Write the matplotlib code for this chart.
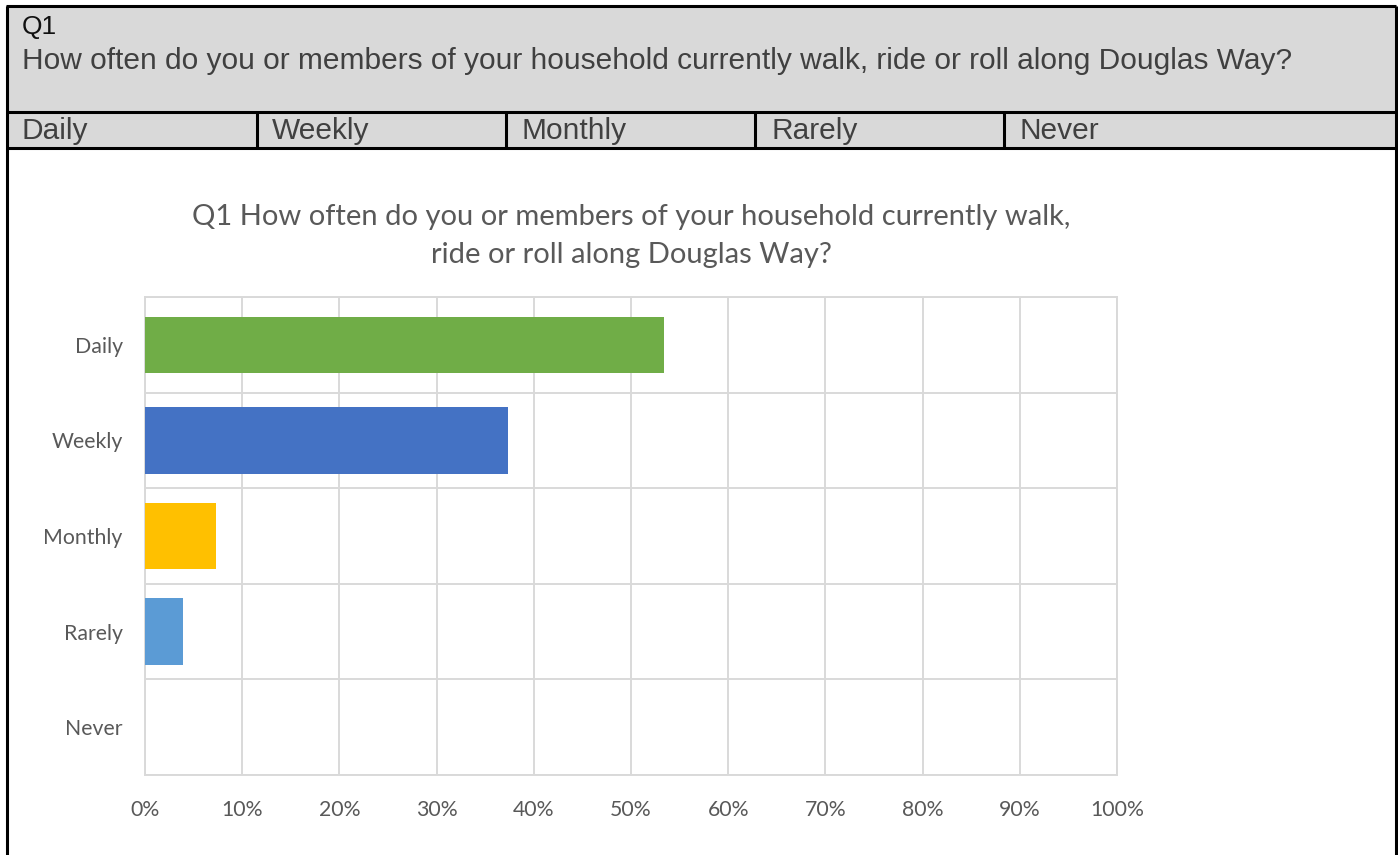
import matplotlib.pyplot as plt
from matplotlib.patches import Rectangle

# data
categories = ['Daily', 'Weekly', 'Monthly', 'Rarely', 'Never']
shares = [0.534, 0.373, 0.073, 0.039, 0.0]
bar_colors = ['#70AD47', '#4472C4', '#FFC000', '#5B9BD5', '#A5A5A5']
xtick_vals = [i / 10 for i in range(11)]
xtick_labels = [f'{i * 10}%' for i in range(11)]
header_q = 'Q1'
header_text = 'How often do you or members of your household currently walk, ride or roll along Douglas Way?'
chart_title = 'Q1 How often do you or members of your household currently walk,\nride or roll along Douglas Way?'

W, H = 1398, 855
fig = plt.figure(figsize=(W / 100, H / 100), dpi=100)

# background layer in pixel coordinates for the table frame
bg = fig.add_axes([0, 0, 1, 1])
bg.set_xlim(0, W)
bg.set_ylim(H, 0)
bg.axis('off')

bg.add_patch(Rectangle((6, 6), 1390, 143, facecolor='#D9D9D9', edgecolor='none'))
black = dict(color='black', lw=2.2, solid_capstyle='butt')
bg.plot([6, 1396], [6.5, 6.5], **black)
bg.plot([6.5, 6.5], [6, H], **black)
bg.plot([1396, 1396], [6, H], **black)
bg.plot([6, 1396], [112.5, 112.5], **black)
bg.plot([6, 1396], [148.5, 148.5], **black)
for xd in [257, 506, 755, 1004]:
    bg.plot([xd, xd], [112.5, 148.5], **black)

hdr_font = ['Liberation Sans', 'DejaVu Sans']
bg.text(22, 27, header_q, fontsize=19, family=hdr_font, color='#111111', va='center')
bg.text(22, 61, header_text, fontsize=21.5, family=hdr_font, color='#404040', va='center')
for xl, lab in zip([22, 272, 521, 771, 1020], categories):
    bg.text(xl, 131, lab, fontsize=21.5, family=hdr_font, color='#404040', va='center')

# chart
ax = fig.add_axes([145 / W, (H - 775) / H, (1117 - 145) / W, (775 - 297) / H])
ypos = range(len(categories))
heights = [0.58, 0.7, 0.7, 0.7, 0.7]
ax.barh(list(ypos), shares, height=heights, color=bar_colors, zorder=3)
ax.set_xlim(0, 1)
ax.set_ylim(len(categories) - 0.5, -0.5)

ax.set_xticks(xtick_vals)
ax.set_xticklabels(xtick_labels)
ax.set_yticks(list(ypos))
ax.set_yticklabels(categories)
ax.set_yticks([k - 0.5 for k in range(len(categories) + 1)], minor=True)

grid_c = '#D9D9D9'
ax.grid(axis='x', which='major', color=grid_c, lw=1.4, zorder=0)
ax.grid(axis='y', which='minor', color=grid_c, lw=1.4, zorder=0)
for s in ax.spines.values():
    s.set_color(grid_c)
    s.set_linewidth(1.4)
ax.tick_params(which='both', length=0)
ax.tick_params(axis='x', pad=18)
ax.tick_params(axis='y', pad=16)

lab_font = ['Lato', 'DejaVu Sans']
for t in ax.get_xticklabels() + ax.get_yticklabels():
    t.set_family(lab_font)
    t.set_fontsize(15.3)
    t.set_color('#595959')

bg.text(631, 236, chart_title, fontsize=21, family=lab_font, color='#595959',
        ha='center', va='center', linespacing=1.55)

fig.savefig('out.png', dpi=100)
